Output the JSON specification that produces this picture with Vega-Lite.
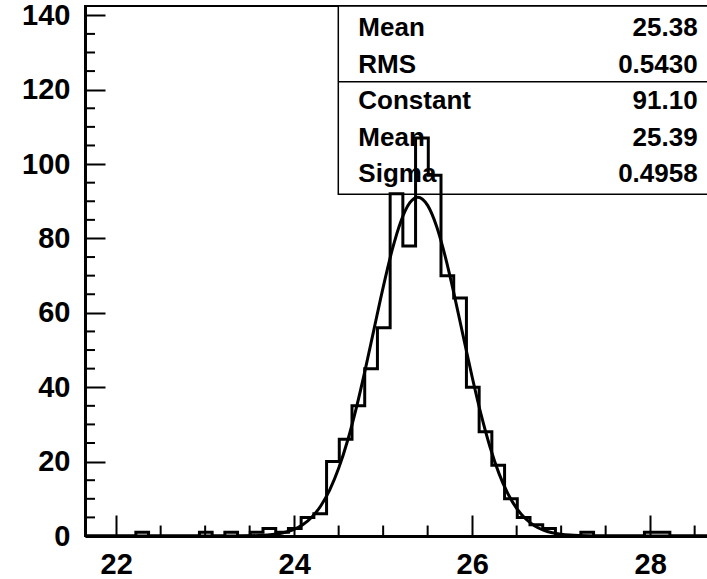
{
  "$schema": "https://vega.github.io/schema/vega-lite/v6.json",
  "width": 623,
  "height": 530,
  "autosize": {"type": "none"},
  "padding": {"left": 85, "top": 6, "right": 0, "bottom": 43},
  "background": "white",
  "config": {"view": {"stroke": "black", "strokeWidth": 2}, "font": "Liberation Sans"},
  "datasets": {
    "hist": [
      {"lo": 21.65, "n": 0}, {"lo": 21.7929, "n": 0}, {"lo": 21.9357, "n": 0}, {"lo": 22.0786, "n": 0},
      {"lo": 22.2214, "n": 1}, {"lo": 22.3643, "n": 0}, {"lo": 22.5071, "n": 0}, {"lo": 22.65, "n": 0},
      {"lo": 22.7929, "n": 0}, {"lo": 22.9357, "n": 1}, {"lo": 23.0786, "n": 0}, {"lo": 23.2214, "n": 1},
      {"lo": 23.3643, "n": 0}, {"lo": 23.5071, "n": 1}, {"lo": 23.65, "n": 2}, {"lo": 23.7929, "n": 1},
      {"lo": 23.9357, "n": 2}, {"lo": 24.0786, "n": 5}, {"lo": 24.2214, "n": 6}, {"lo": 24.3643, "n": 20},
      {"lo": 24.5071, "n": 26}, {"lo": 24.65, "n": 35}, {"lo": 24.7929, "n": 45}, {"lo": 24.9357, "n": 56},
      {"lo": 25.0786, "n": 92}, {"lo": 25.2214, "n": 78}, {"lo": 25.3643, "n": 107}, {"lo": 25.5071, "n": 97},
      {"lo": 25.65, "n": 70}, {"lo": 25.7929, "n": 64}, {"lo": 25.9357, "n": 40}, {"lo": 26.0786, "n": 28},
      {"lo": 26.2214, "n": 19}, {"lo": 26.3643, "n": 10}, {"lo": 26.5071, "n": 5}, {"lo": 26.65, "n": 3},
      {"lo": 26.7929, "n": 2}, {"lo": 26.9357, "n": 0}, {"lo": 27.0786, "n": 0}, {"lo": 27.2214, "n": 1},
      {"lo": 27.3643, "n": 0}, {"lo": 27.5071, "n": 0}, {"lo": 27.65, "n": 0}, {"lo": 27.7929, "n": 0},
      {"lo": 27.9357, "n": 1}, {"lo": 28.0786, "n": 1}, {"lo": 28.2214, "n": 0}, {"lo": 28.3643, "n": 0},
      {"lo": 28.5071, "n": 0}, {"lo": 28.65, "n": 0}
    ],
    "fit": [
      {"x": 21.65, "y": 0}, {"x": 23.4, "y": 0.029}, {"x": 23.5, "y": 0.064}, {"x": 23.6, "y": 0.135},
      {"x": 23.7, "y": 0.273}, {"x": 23.8, "y": 0.533}, {"x": 23.9, "y": 0.996}, {"x": 24.0, "y": 1.79},
      {"x": 24.1, "y": 3.087}, {"x": 24.2, "y": 5.112}, {"x": 24.3, "y": 8.126}, {"x": 24.4, "y": 12.41},
      {"x": 24.5, "y": 18.188}, {"x": 24.6, "y": 25.598}, {"x": 24.7, "y": 34.59}, {"x": 24.8, "y": 44.875},
      {"x": 24.9, "y": 55.903}, {"x": 25.0, "y": 66.86}, {"x": 25.1, "y": 76.774}, {"x": 25.2, "y": 84.65},
      {"x": 25.3, "y": 89.611}, {"x": 25.39, "y": 91.1}, {"x": 25.5, "y": 88.885}, {"x": 25.6, "y": 83.284},
      {"x": 25.7, "y": 74.925}, {"x": 25.8, "y": 64.717}, {"x": 25.9, "y": 53.672}, {"x": 26.0, "y": 42.739},
      {"x": 26.1, "y": 32.674}, {"x": 26.2, "y": 23.986}, {"x": 26.3, "y": 16.903}, {"x": 26.4, "y": 11.442},
      {"x": 26.5, "y": 7.431}, {"x": 26.6, "y": 4.636}, {"x": 26.7, "y": 2.777}, {"x": 26.8, "y": 1.597},
      {"x": 26.9, "y": 0.882}, {"x": 27.0, "y": 0.468}, {"x": 27.1, "y": 0.238}, {"x": 27.2, "y": 0.116},
      {"x": 27.3, "y": 0.055}, {"x": 27.4, "y": 0.025}, {"x": 28.65, "y": 0}
    ],
    "stats": [
      {"row": 1, "label": "Mean", "value": "25.38"},
      {"row": 2, "label": "RMS", "value": "0.5430"},
      {"row": 3, "label": "Constant", "value": "91.10"},
      {"row": 4, "label": "Mean", "value": "25.39"},
      {"row": 5, "label": "Sigma", "value": "0.4958"}
    ],
    "xminor": [
      {"v": 22.5}, {"v": 23}, {"v": 23.5}, {"v": 24.5}, {"v": 25}, {"v": 25.5},
      {"v": 26.5}, {"v": 27}, {"v": 27.5}, {"v": 28.5}
    ],
    "yminor": [
      {"v": 5}, {"v": 10}, {"v": 15}, {"v": 25}, {"v": 30}, {"v": 35}, {"v": 45}, {"v": 50}, {"v": 55},
      {"v": 65}, {"v": 70}, {"v": 75}, {"v": 85}, {"v": 90}, {"v": 95}, {"v": 105}, {"v": 110}, {"v": 115},
      {"v": 125}, {"v": 130}, {"v": 135}
    ]
  },
  "layer": [
    {
      "data": {"values": [{"box": "stats"}]},
      "mark": {"type": "rect", "fill": "white", "stroke": "black", "strokeWidth": 1.5},
      "encoding": {
        "x": {"datum": 24.496, "type": "quantitative"},
        "x2": {"datum": 28.65},
        "y": {"datum": 142.5, "type": "quantitative"},
        "y2": {"datum": 91.9}
      }
    },
    {
      "data": {"values": [{"box": "divider"}]},
      "mark": {"type": "rule", "color": "black", "strokeWidth": 1.5},
      "encoding": {
        "x": {"datum": 24.496, "type": "quantitative"},
        "x2": {"datum": 28.65},
        "y": {"datum": 122.16, "type": "quantitative"}
      }
    },
    {
      "data": {"name": "hist"},
      "mark": {"type": "line", "interpolate": "step-after", "color": "black", "strokeWidth": 3, "clip": true},
      "encoding": {
        "x": {
          "field": "lo", "type": "quantitative",
          "scale": {"domain": [21.65, 28.65], "nice": false, "zero": false},
          "axis": {
            "title": null, "grid": false,
            "values": [22, 24, 26, 28],
            "format": "d",
            "domainColor": "black", "domainWidth": 3,
            "tickColor": "black", "tickWidth": 2,
            "tickSize": -21,
            "labelPadding": 35,
            "labelFont": "Liberation Sans", "labelFontSize": 29, "labelFontWeight": "bold", "labelColor": "black",
            "labelBaseline": "top", "labelOverlap": false, "labelFlush": false
          }
        },
        "y": {
          "field": "n", "type": "quantitative",
          "scale": {"domain": [0, 142.5], "nice": false},
          "axis": {
            "title": null, "grid": false,
            "values": [0, 20, 40, 60, 80, 100, 120, 140],
            "domainColor": "black", "domainWidth": 3,
            "tickColor": "black", "tickWidth": 2,
            "tickSize": -20,
            "labelPadding": 35,
            "labelFont": "Liberation Sans", "labelFontSize": 29, "labelFontWeight": "bold", "labelColor": "black",
            "labelBaseline": "middle", "labelOverlap": false, "labelFlush": false
          }
        }
      }
    },
    {
      "data": {"name": "xminor"},
      "mark": {"type": "rule", "color": "black", "strokeWidth": 2},
      "encoding": {
        "x": {"field": "v", "type": "quantitative"},
        "y": {"datum": 0, "type": "quantitative"},
        "y2": {"datum": 2.82}
      }
    },
    {
      "data": {"name": "yminor"},
      "mark": {"type": "rule", "color": "black", "strokeWidth": 2},
      "encoding": {
        "y": {"field": "v", "type": "quantitative"},
        "x": {"datum": 21.65, "type": "quantitative"},
        "x2": {"datum": 21.7624}
      }
    },
    {
      "data": {"name": "fit"},
      "mark": {"type": "line", "interpolate": "monotone", "color": "black", "strokeWidth": 3, "clip": true},
      "encoding": {
        "x": {"field": "x", "type": "quantitative"},
        "y": {"field": "y", "type": "quantitative"}
      }
    },
    {
      "data": {"name": "stats"},
      "mark": {"type": "text", "align": "left", "baseline": "alphabetic", "font": "Liberation Sans", "fontWeight": "bold", "fontSize": 26, "color": "black"},
      "encoding": {
        "x": {"datum": 24.721, "type": "quantitative"},
        "y": {"datum": 142.5, "type": "quantitative"},
        "yOffset": {"field": "row", "type": "quantitative", "scale": {"domain": [1, 5], "range": [30.3, 175.9], "zero": false}},
        "text": {"field": "label"}
      }
    },
    {
      "data": {"name": "stats"},
      "mark": {"type": "text", "align": "right", "baseline": "alphabetic", "font": "Liberation Sans", "fontWeight": "bold", "fontSize": 26, "color": "black"},
      "encoding": {
        "x": {"datum": 28.534, "type": "quantitative"},
        "y": {"datum": 142.5, "type": "quantitative"},
        "yOffset": {"field": "row", "type": "quantitative", "scale": {"domain": [1, 5], "range": [30.3, 175.9], "zero": false}},
        "text": {"field": "value"}
      }
    }
  ]
}
